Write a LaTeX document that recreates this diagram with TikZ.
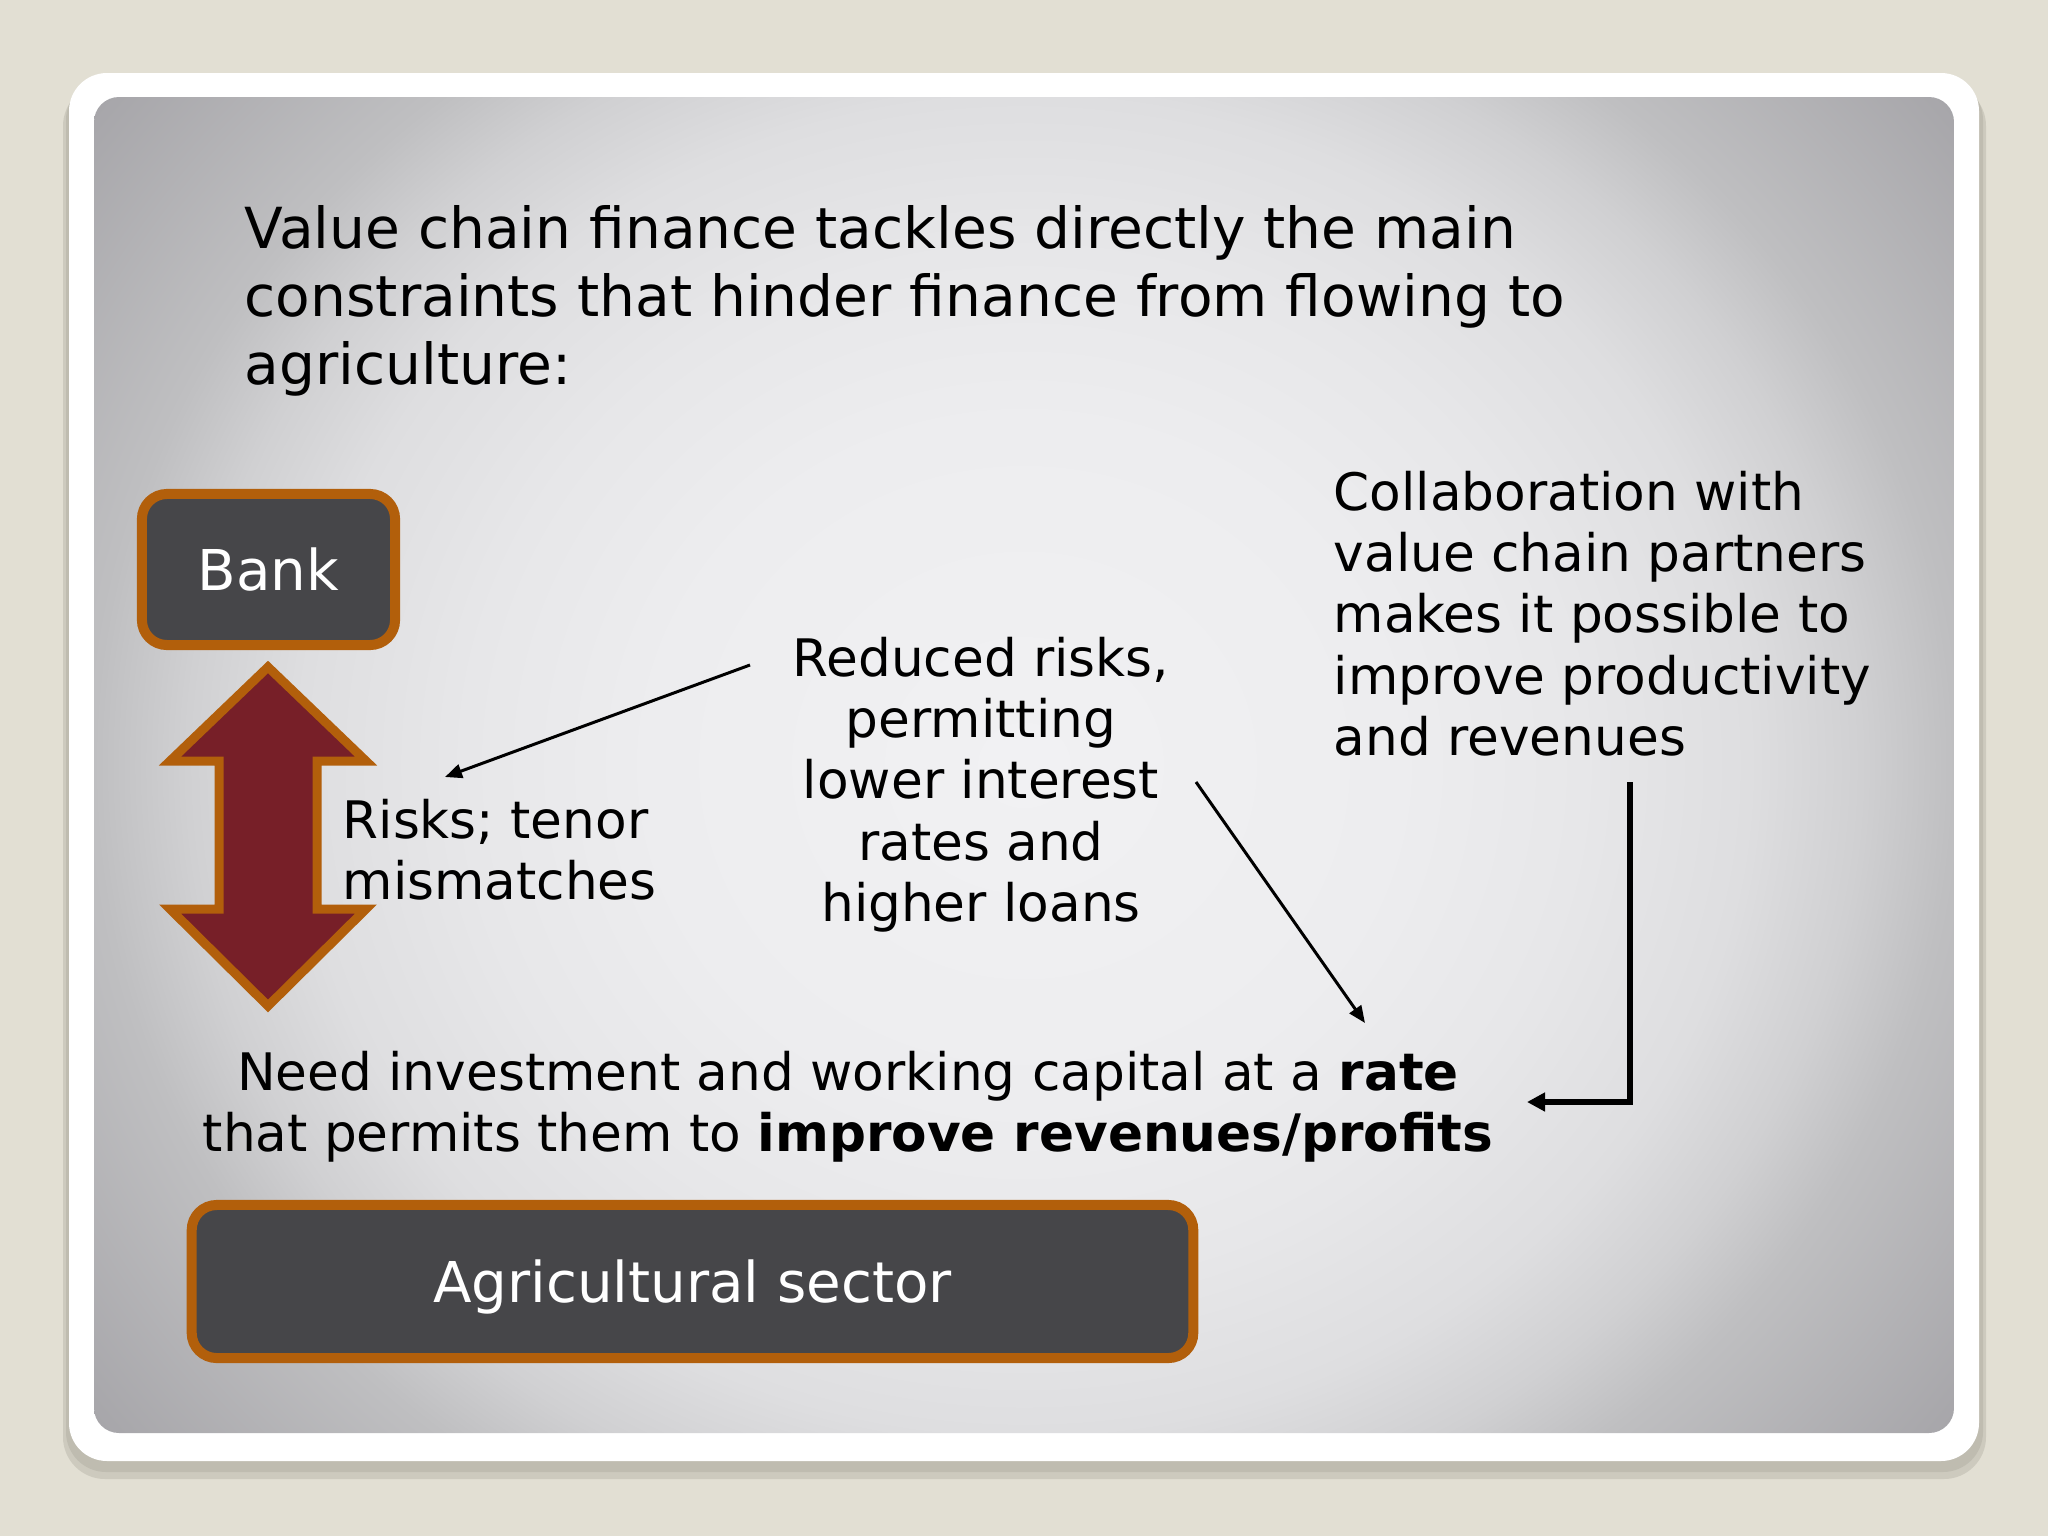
\documentclass[tikz,border=0pt]{standalone}
\usepackage{fontspec}
\setmainfont{DejaVu Sans}
\usetikzlibrary{arrows.meta}

\definecolor{slidebg}{HTML}{E2DFD3}
\definecolor{shadowgray}{HTML}{B4B2A6}
\definecolor{boxfill}{HTML}{464649}
\definecolor{boxedge}{HTML}{B25F0B}
\definecolor{arrowred}{HTML}{771F28}
\definecolor{panelhi}{HTML}{F1F1F3}
\definecolor{panellight}{HTML}{EDEDEF}
\definecolor{panelmid}{HTML}{E7E7E9}
\definecolor{panelsoft}{HTML}{DEDEE0}
\definecolor{panelside}{HTML}{D0D0D2}
\definecolor{paneledge}{HTML}{BFBFC1}
\definecolor{panelcorner}{HTML}{A6A5A9}

\pgfdeclareradialshading{panelglow}{\pgfpoint{0bp}{0bp}}{color(0bp)=(panelhi); color(10bp)=(panellight); color(15bp)=(panelmid); color(19.5bp)=(panelsoft); color(22.5bp)=(panelside); color(25bp)=(paneledge); color(31.7bp)=(panelcorner); color(50bp)=(panelcorner)}

\begin{document}
\begin{tikzpicture}[x=0.01cm, y=-0.01cm,
  darkbox/.style={draw=boxedge, line width=2.85pt, fill=boxfill, rounded corners=0.25cm,
    text=white, font=\fontsize{16}{19}\selectfont, text depth=0pt},
  note/.style={inner sep=0pt, font=\fontsize{14.7}{17.4}\selectfont},
  thinarrow/.style={-{Triangle[length=0.17cm,width=0.14cm]}, line width=0.85pt}]
\useasboundingbox (0,0) rectangle (2048,1536);

% Slide background and panel
\fill[slidebg] (0,0) rectangle (2048,1536);
\fill[shadowgray, opacity=0.45, rounded corners=0.42cm] (63,84) rectangle (1986,1479);
\fill[shadowgray, opacity=0.55, rounded corners=0.4cm] (66,80) rectangle (1983,1472);
\fill[white, rounded corners=0.38cm] (69,73) rectangle (1979,1461);
\begin{scope}
  \clip[rounded corners=0.25cm] (94,97) rectangle (1954,1433);
  \shade[shading=panelglow] (94,-91) rectangle (1954,1621);
\end{scope}

% Title
\node[note, font=\fontsize{16.1}{19.35}\selectfont, anchor=north west, align=left] (title) at (244,200)
  {\strut Value chain finance tackles directly the main\\
   constraints that hinder finance from flowing to\\
   agriculture:};

% Bank and agricultural sector
\node[darkbox, minimum width=2.53cm, minimum height=1.51cm] (bank) at (268.5,569.5) {Bank};
\node[darkbox, minimum width=10.01cm, minimum height=1.53cm] (agri) at (692.5,1281.5) {Agricultural sector};

% Double arrow between them
\draw[fill=arrowred, draw=boxedge, line width=2.56pt, miter limit=10]
  (268,667) -- (366,761) -- (317,761) -- (317,909) -- (366,909) -- (268,1006)
  -- (170,909) -- (219,909) -- (219,761) -- (170,761) -- cycle;

% Texts
\node[note, anchor=north west, align=left] (risks) at (342,795)
  {\strut Risks; tenor\\ mismatches};
\node[note, anchor=north, align=center] (reduced) at (981,633)
  {\strut Reduced risks,\\ permitting\\ lower interest\\ rates and\\ higher loans};
\node[note, anchor=north west, align=left] (collab) at (1333,467)
  {\strut Collaboration with\\ value chain partners\\ makes it possible to\\ improve productivity\\ and revenues};
\node[note, anchor=north, align=center] (need) at (848,1047)
  {\strut Need investment and working capital at a \textbf{rate}\\
   that permits them to \textbf{improve revenues/profits}};

% Connectors
\coordinate (redin) at (750,665);
\coordinate (riskin) at (445,777);
\draw[thinarrow] (redin) -- (riskin);
\coordinate (redout) at (1196,782);
\coordinate (needin) at (1365,1023);
\draw[thinarrow] (redout) -- (needin);
\coordinate (collabout) at (1630,782);
\coordinate (needright) at (1527,1102);
\draw[-{Triangle[length=0.18cm,width=0.18cm]}, line width=1.5pt] (collabout) |- (needright);
\end{tikzpicture}
\end{document}
